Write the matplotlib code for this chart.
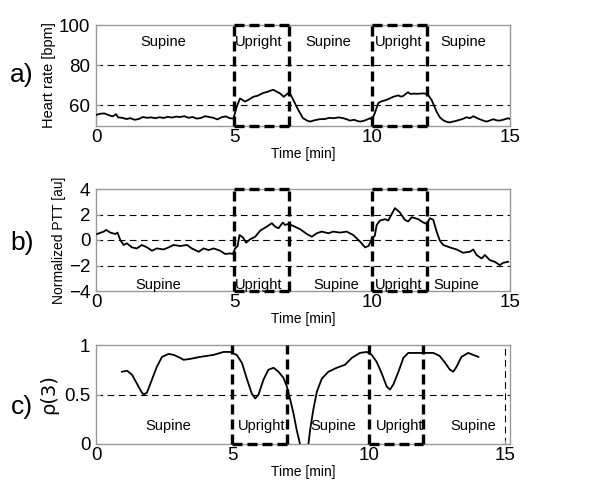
import matplotlib
matplotlib.use("Agg")
import matplotlib.pyplot as plt

plt.rcParams['font.family'] = ['Liberation Sans Narrow', 'Liberation Sans', 'DejaVu Sans']

# ---------------- data ----------------
hr_t = [0, 0.15, 0.3, 0.45, 0.6, 0.73, 0.8, 0.95, 1.1, 1.25, 1.4, 1.55, 1.7, 1.85, 2.0, 2.15, 2.3, 2.45,
        2.6, 2.75, 2.9, 3.05, 3.2, 3.35, 3.5, 3.65, 3.8, 3.95, 4.1, 4.25, 4.4, 4.55, 4.7, 4.85, 4.98,
        5.1, 5.22, 5.4, 5.55, 5.7, 5.85, 6.07, 6.2, 6.3, 6.43, 6.55, 6.67, 6.8, 6.97, 7.05, 7.15, 7.33,
        7.5, 7.65, 7.76, 7.9, 8.1, 8.3, 8.45, 8.6, 8.8, 8.96, 9.1, 9.2, 9.35, 9.5, 9.57, 9.7, 9.8, 9.93,
        10.0, 10.1, 10.23, 10.35, 10.47, 10.6, 10.77, 10.95, 11.05, 11.13, 11.3, 11.4, 11.5, 11.65,
        11.86, 12.01, 12.16, 12.34, 12.46, 12.58, 12.7, 12.82, 13.0, 13.18, 13.3, 13.43, 13.55, 13.67,
        13.8, 13.9, 14.05, 14.15, 14.3, 14.4, 14.52, 14.63, 14.8, 14.93, 15.0]
hr_v = [55.0, 55.6, 55.8, 55.0, 54.3, 55.4, 53.8, 53.6, 53.0, 53.4, 52.6, 53.0, 54.0, 53.6, 53.8, 53.4,
        53.9, 53.5, 54.1, 53.7, 54.2, 54.0, 54.4, 53.6, 54.0, 53.2, 53.5, 54.4, 54.0, 53.6, 52.8, 53.9,
        54.3, 53.4, 53.2, 59.2, 63.3, 61.7, 62.8, 64.1, 64.6, 66.1, 66.5, 67.1, 67.6, 66.6, 65.8, 64.1,
        66.0, 65.2, 62.5, 57.5, 53.4, 52.2, 51.7, 52.3, 52.9, 53.0, 53.6, 53.4, 53.8, 53.4, 52.8, 52.2,
        52.6, 51.9, 51.7, 52.1, 52.6, 53.4, 52.6, 55.9, 61.0, 61.9, 62.3, 63.0, 64.1, 64.8, 64.2, 64.5,
        66.4, 65.5, 65.7, 65.6, 65.8, 65.5, 62.5, 56.7, 53.8, 52.4, 51.6, 51.3, 51.9, 52.6, 53.1, 53.9,
        53.4, 54.4, 53.5, 52.9, 52.1, 51.7, 52.4, 52.9, 52.3, 52.2, 52.8, 53.4, 53.0]

ptt_t = [0.04, 0.28, 0.37, 0.52, 0.7, 0.78, 0.88, 1.0, 1.12, 1.3, 1.48, 1.66, 1.85, 2.03, 2.2, 2.45,
         2.63, 2.81, 3.05, 3.3, 3.47, 3.72, 3.9, 4.08, 4.26, 4.5, 4.68, 4.86, 4.96, 5.04, 5.13, 5.2,
         5.32, 5.44, 5.58, 5.77, 5.95, 6.19, 6.37, 6.49, 6.61, 6.77, 6.85, 6.97, 7.15, 7.4, 7.64, 7.82,
         8.0, 8.18, 8.42, 8.6, 8.84, 9.08, 9.32, 9.57, 9.75, 9.87, 9.95, 10.02, 10.1, 10.17, 10.29,
         10.47, 10.59, 10.83, 11.01, 11.19, 11.31, 11.44, 11.68, 11.86, 11.98, 12.1, 12.22, 12.34,
         12.46, 12.58, 12.82, 13.06, 13.3, 13.55, 13.67, 13.79, 13.97, 14.09, 14.27, 14.45, 14.63,
         14.75, 14.93]
ptt_v = [0.47, 0.66, 0.79, 0.58, 0.47, 0.58, 0.0, -0.39, -0.26, -0.58, -0.66, -0.39, -0.58, -0.84,
         -0.66, -0.74, -0.58, -0.39, -0.47, -0.39, -0.66, -0.92, -0.66, -0.79, -0.66, -0.84, -1.1,
         -1.05, -1.1, -0.66, -0.47, 0.39, 0.21, -0.21, 0.05, 0.26, 0.74, 1.05, 1.32, 1.05, 0.92, 1.37,
         1.18, 1.26, 1.1, 0.84, 0.47, 0.26, 0.53, 0.66, 0.53, 0.66, 0.58, 0.66, 0.39, -0.13, -0.58,
         -0.47, -0.13, 0.21, 0.32, 1.18, 1.53, 1.63, 1.53, 2.5, 2.16, 1.58, 1.45, 1.79, 1.63, 1.37,
         1.26, 1.71, 1.58, 0.66, -0.05, -0.39, -0.58, -0.74, -1.0, -0.92, -0.74, -1.18, -1.45, -1.18,
         -1.58, -1.71, -1.97, -1.79, -1.71]

rho_t = [0.95, 1.14, 1.32, 1.5, 1.68, 1.75, 1.87, 2.05, 2.23, 2.42, 2.66, 2.85, 3.09, 3.21, 3.46,
         3.82, 4.31, 4.68, 4.92, 5.16, 5.35, 5.53, 5.71, 5.84, 5.96, 6.14, 6.32, 6.51, 6.69, 6.87,
         7.0, 7.12, 7.24, 7.36, 7.48, 7.63, 7.79, 7.85, 7.97, 8.1, 8.28, 8.52, 8.83, 9.13, 9.38, 9.68,
         9.93, 10.11, 10.29, 10.48, 10.66, 10.78, 10.9, 11.09, 11.27, 11.45, 11.7, 12.0, 12.37, 12.6,
         12.8, 12.98, 13.1, 13.22, 13.4, 13.65, 13.83, 14.02]
rho_v = [0.73, 0.74, 0.70, 0.61, 0.52, 0.50, 0.52, 0.65, 0.78, 0.88, 0.91, 0.90, 0.87, 0.85, 0.86,
         0.88, 0.90, 0.93, 0.93, 0.90, 0.82, 0.66, 0.51, 0.46, 0.50, 0.65, 0.75, 0.77, 0.73, 0.67,
         0.58, 0.45, 0.31, 0.14, 0.0, -0.2, 0.0, 0.14, 0.35, 0.53, 0.66, 0.73, 0.77, 0.80, 0.87, 0.92,
         0.93, 0.90, 0.83, 0.71, 0.58, 0.55, 0.60, 0.73, 0.87, 0.92, 0.92, 0.92, 0.92, 0.89, 0.82,
         0.75, 0.73, 0.78, 0.88, 0.92, 0.90, 0.88]

upright_periods = [(5, 7), (10, 12)]
phase_labels = ["Supine", "Upright", "Supine", "Upright", "Supine"]
xticks = [0, 5, 10, 15]

# ---------------- figure ----------------
fig = plt.figure(figsize=(6.12, 4.93), dpi=100)
W, H = 612, 493

def make_ax(top, bottom, right=510):
    return fig.add_axes([96 / W, 1 - bottom / H, (right - 96) / W, (bottom - top) / H])

ax_a = make_ax(25, 126)
ax_b = make_ax(189, 291)
ax_c = make_ax(345, 444)

def style(ax, xlim, ylim, yticks, hlines):
    ax.set_xlim(*xlim)
    ax.set_ylim(*ylim)
    ax.set_xticks(xticks)
    ax.set_yticks(yticks)
    for s in ax.spines.values():
        s.set_color('#999999')
        s.set_linewidth(1.0)
    ax.tick_params(direction='in', length=3, color='#999999', labelsize=13.5)
    ax.tick_params(axis='x', pad=2)
    ax.tick_params(axis='y', pad=4)
    for h in hlines:
        ax.axhline(h, color='black', lw=0.8, ls=(0, (6, 4)), zorder=1)
    ax.set_xlabel('Time [min]', fontsize=10, labelpad=1)

def boxes(ax, ylim, top=True):
    for (a, b) in upright_periods:
        kw = dict(color='black', lw=2.4, ls=(0, (3, 1.5)), zorder=4, clip_on=False)
        ax.plot([a, a], ylim, **kw)
        ax.plot([b, b], ylim, **kw)
        ax.plot([a, b], [ylim[0], ylim[0]], **kw)
        if top:
            ax.plot([a, b], [ylim[1], ylim[1]], **kw)

# panel a
style(ax_a, (0, 15), (49.5, 100), [60, 80, 100], [60, 80])
ax_a.plot(hr_t, hr_v, color='black', lw=1.3, zorder=3)
boxes(ax_a, (49.5, 100))
ax_a.set_ylabel('Heart rate [bpm]', fontsize=10.5, labelpad=2)
for x, lab in zip([2.45, 5.9, 8.4, 10.95, 13.3], phase_labels):
    ax_a.text(x, 91.5, lab, ha='center', va='center', fontsize=10.5)

# panel b
style(ax_b, (0, 15), (-4, 4), [-4, -2, 0, 2, 4], [-2, 0, 2])
ax_b.plot(ptt_t, ptt_v, color='black', lw=1.3, zorder=3)
boxes(ax_b, (-4, 4))
ax_b.set_ylabel('Normalized PTT [au]', fontsize=10, labelpad=2)
for x, lab in zip([2.27, 5.9, 8.7, 10.95, 13.05], phase_labels):
    ax_b.text(x, -3.5, lab, ha='center', va='center', fontsize=10.5)

# panel c
style(ax_c, (0, 15.18), (0, 1), [0, 0.5, 1], [0.5])
ax_c.set_yticklabels(['0', '0.5', '1'])
ax_c.plot(rho_t, rho_v, color='black', lw=1.3, zorder=3)
boxes(ax_c, (0, 1), top=False)
ax_c.axvline(15, color='black', lw=0.8, ls=(0, (6, 4)), zorder=1)
ax_c.set_ylabel('ρ(3)', fontsize=14, labelpad=4, family=['DejaVu Sans'])
for x, lab in zip([2.66, 6.08, 8.7, 11.15, 13.83], phase_labels):
    ax_c.text(x, 0.18, lab, ha='center', va='center', fontsize=10.5)

# panel letters
for y, lab in [(75, 'a)'), (243, 'b)'), (407, 'c)')]:
    fig.text(22 / W, 1 - y / H, lab, ha='center', va='center', fontsize=19)

fig.savefig('out.png', dpi=100)
